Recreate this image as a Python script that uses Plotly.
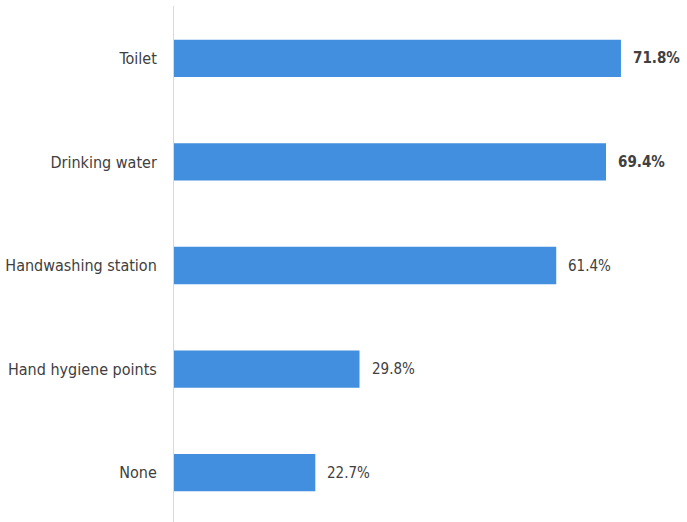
import plotly.graph_objects as go

# Share of respondents reporting each facility
categories = ["Toilet", "Drinking water", "Handwashing station", "Hand hygiene points", "None"]
values = [71.8, 69.4, 61.4, 29.8, 22.7]
bold_labels = [True, True, False, False, False]

FONT = "Liberation Sans Narrow, Arial Narrow, DejaVu Sans Condensed, sans-serif"
BAR_COLOR = "#418FDE"
TEXT_COLOR = "#404040"

fig = go.Figure(
    go.Bar(
        x=values,
        y=categories,
        orientation="h",
        marker=dict(color=BAR_COLOR, line=dict(width=0)),
        width=0.36,
        hoverinfo="x+y",
    )
)

# Value labels just past the end of each bar
for cat, val, bold in zip(categories, values, bold_labels):
    label = f"{val:.1f}%"
    if bold:
        label = f"<b>{label}</b>"
    fig.add_annotation(
        x=val,
        y=cat,
        text=label,
        showarrow=False,
        xanchor="left",
        yanchor="middle",
        xshift=10,
        font=dict(family=FONT, size=15, color=TEXT_COLOR),
    )

fig.update_layout(
    width=687,
    height=522,
    margin=dict(l=174, r=15, t=6, b=0),
    paper_bgcolor="white",
    plot_bgcolor="white",
    showlegend=False,
    font=dict(family=FONT, color=TEXT_COLOR),
    xaxis=dict(
        range=[0, 80],
        visible=False,
        showgrid=False,
        zeroline=False,
        automargin=False,
    ),
    yaxis=dict(
        categoryorder="array",
        categoryarray=categories,
        range=[4.478, -0.507],
        showgrid=False,
        zeroline=False,
        showline=True,
        linecolor="#D9D9D9",
        linewidth=1,
        ticks="",
        ticklabelstandoff=13,
        automargin=False,
        tickfont=dict(family=FONT, size=16, color=TEXT_COLOR),
    ),
)

fig.write_html("out.html")
